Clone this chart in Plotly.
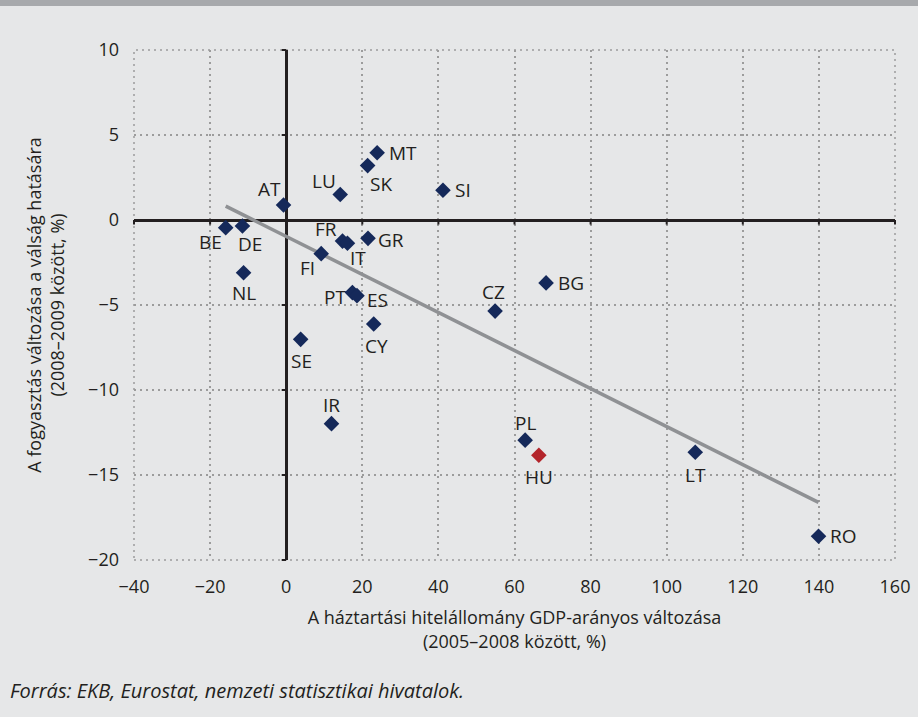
import numpy as np
import plotly.graph_objects as go

# ---- data ----
countries = ["AT", "BE", "DE", "NL", "LU", "MT", "SK", "SI", "FR", "IT", "GR", "FI",
             "PT", "ES", "CY", "SE", "IR", "CZ", "BG", "PL", "HU", "LT", "RO"]
credit_change = [-0.7, -15.9, -11.5, -11.2, 14.2, 23.9, 21.4, 41.2, 14.8, 16.1, 21.5, 9.2,
                 17.4, 18.6, 23.0, 3.8, 11.9, 54.9, 68.3, 62.8, 66.4, 107.5, 139.9]
consumption_change = [0.88, -0.45, -0.35, -3.1, 1.5, 3.96, 3.2, 1.75, -1.24, -1.37, -1.08, -1.98,
                      -4.27, -4.45, -6.12, -7.02, -11.98, -5.36, -3.7, -12.95, -13.84, -13.66, -18.6]
highlight = "HU"

x_ticks = [-40, -20, 0, 20, 40, 60, 80, 100, 120, 140, 160]
y_ticks = [-20, -15, -10, -5, 0, 5, 10]
x_tick_labels = ["\u221240", "\u221220", "0", "20", "40", "60", "80", "100", "120", "140", "160"]
y_tick_labels = ["\u221220", "\u221215", "\u221210", "\u22125", "0", "5", "10"]

x_title = "A háztartási hitelállomány GDP-arányos változása<br>(2005–2008 között, %)"
y_title = "A fogyasztás változása a válság hatására<br>(2008–2009 között, %)"
source = "Forrás: EKB, Eurostat, nemzeti statisztikai hivatalok."

# label offsets (pixels): style only
label_offsets = {
    "AT": (-14, 16), "BE": (-15, -14), "DE": (8, -18), "NL": (0, -20), "LU": (-16, 14),
    "MT": (26, 0), "SK": (13, -18), "SI": (20, 0), "FR": (-17, 12), "IT": (11, -15),
    "GR": (23, -2), "FI": (-14, -14), "PT": (-17, -4), "ES": (21, -4), "CY": (3, -22),
    "SE": (1, -22), "IR": (0, 19), "CZ": (-2, 19), "BG": (25, 0), "PL": (0, 17),
    "HU": (0, -22), "LT": (0, -23), "RO": (25, 0),
}

NAVY = "#15295a"
RED = "#b3252b"
BG = "#e6e7e8"
TXT = "#231f20"
GRID = "#9c9c9c"
FONT = "Open Sans"
ML, MR, MT_, MB = 134, 23, 50, 157
PW, PH = 918 - ML - MR, 717 - MT_ - MB

x = np.array(credit_change)
y = np.array(consumption_change)
slope, intercept = np.polyfit(x, y, 1)
xt = np.array([x.min(), x.max()])
yt = slope * xt + intercept

fig = go.Figure()

fig.add_trace(go.Scatter(x=xt, y=yt, mode="lines",
                         line=dict(color="#8f9194", width=3.5),
                         hoverinfo="skip", showlegend=False))

colors = [RED if c == highlight else NAVY for c in countries]
fig.add_trace(go.Scatter(x=credit_change, y=consumption_change, mode="markers",
                         marker=dict(symbol="diamond", size=12, color=colors,
                                     line=dict(width=0)),
                         text=countries, showlegend=False))

for c, xv, yv in zip(countries, credit_change, consumption_change):
    dx, dy = label_offsets[c]
    fig.add_annotation(x=xv, y=yv, text=c, showarrow=False, xshift=dx, yshift=dy,
                       font=dict(family=FONT, size=19, color=TXT))

# small tick marks on the zero axes
for tv in y_ticks:
    if tv != 0:
        fig.add_annotation(x=0, y=tv, ax=-6, ay=0, text="", showarrow=True,
                           arrowhead=0, arrowwidth=2, arrowcolor=TXT, standoff=0,
                           startstandoff=0)
for tv in x_ticks:
    if tv != 0:
        fig.add_annotation(x=tv, y=0, ax=0, ay=6, text="", showarrow=True,
                           arrowhead=0, arrowwidth=2, arrowcolor=TXT, standoff=0,
                           startstandoff=0)

xr = [x_ticks[0], x_ticks[-1]]
yr = [y_ticks[0], y_ticks[-1]]

fig.update_layout(
    width=918, height=717,
    paper_bgcolor=BG, plot_bgcolor=BG,
    margin=dict(l=ML, r=MR, t=MT_, b=MB),
    font=dict(family=FONT, size=18, color=TXT),
    xaxis=dict(range=xr, tickvals=x_ticks, ticktext=x_tick_labels, automargin=False,
               showgrid=True, gridcolor=GRID, griddash="2px,4px", gridwidth=1.5,
               zeroline=True, zerolinecolor=TXT, zerolinewidth=2.5,
               showline=False, ticks="", ticklabelstandoff=14,
               title=dict(text=x_title, font=dict(size=18), standoff=14),
               tickfont=dict(size=18)),
    yaxis=dict(range=yr, tickvals=y_ticks, ticktext=y_tick_labels, automargin=False,
               showgrid=True, gridcolor=GRID, griddash="2px,4px", gridwidth=1.5,
               zeroline=True, zerolinecolor=TXT, zerolinewidth=2.5,
               showline=False, ticks="", ticklabelstandoff=14,
               title=dict(text=y_title, font=dict(size=18), standoff=18),
               tickfont=dict(size=18)),
    showlegend=False,
)

# dotted plot border (edge grid lines)
fig.add_shape(type="rect", xref="paper", yref="paper", x0=0, x1=1, y0=0, y1=1,
              line=dict(color=GRID, width=1.5, dash="2px,4px"), layer="below")

# top decorative band
fig.add_shape(type="rect", xref="paper", yref="paper",
              x0=-ML / PW, x1=1 + MR / PW, y0=1 + (MT_ - 6) / PH, y1=1 + MT_ / PH,
              fillcolor="#a7a9ac", line=dict(width=0), layer="above")

fig.add_annotation(text=source, xref="paper", yref="paper", x=-(ML - 8) / PW, y=-130 / PH,
                   xanchor="left", yanchor="middle", showarrow=False,
                   font=dict(family=FONT, size=20, color=TXT, style="italic"))

fig.write_html("out.html",
               config={"displayModeBar": False},
               post_script="document.body.style.margin='0';"
                           "document.body.style.overflow='hidden';"
                           "document.body.style.background='" + BG + "';")
